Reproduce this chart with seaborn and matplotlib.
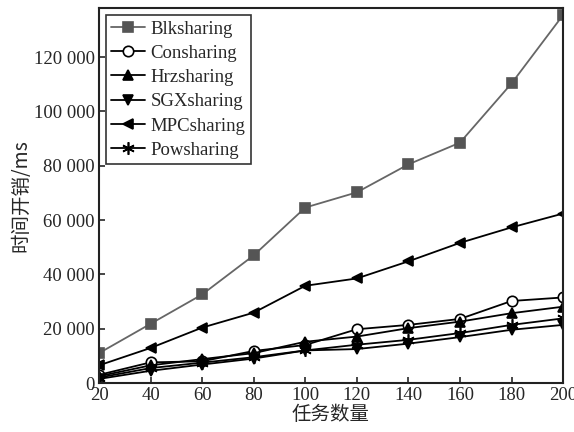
import numpy as np
import pandas as pd
import matplotlib
matplotlib.use("Agg")
import matplotlib.pyplot as plt
import seaborn as sns
from matplotlib.ticker import FuncFormatter

tasks = [20, 40, 60, 80, 100, 120, 140, 160, 180, 200]

blk = [11000, 21800, 32600, 47000, 64600, 70200, 80500, 88500, 110300, 135500]
con = [3000, 7600, 8000, 11800, 14000, 19800, 21400, 23600, 30200, 31500]
hrz = [2500, 6500, 8800, 11000, 15200, 17100, 20200, 22600, 25700, 28100]
sgx = [1500, 4500, 6800, 9000, 12000, 12500, 14500, 16900, 19600, 21400]
mpc = [6500, 12900, 20400, 25900, 35800, 38500, 44800, 51600, 57300, 62400]
pow_ = [2000, 5500, 7500, 9500, 12000, 14100, 15900, 18400, 21400, 23800]

names = ["Blksharing", "Consharing", "Hrzsharing", "SGXsharing", "MPCsharing", "Powsharing"]
series = [blk, con, hrz, sgx, mpc, pow_]

sns.set_style("ticks")
plt.rcParams["font.family"] = ["Liberation Serif", "Noto Sans CJK SC"]
plt.rcParams["xtick.direction"] = "in"
plt.rcParams["ytick.direction"] = "in"

fig = plt.figure(figsize=(5.74, 4.32), dpi=100)
ax = fig.add_axes([0.1725, 0.1134, 0.8085, 0.8676])

styles = {
    "Blksharing": dict(color="#666666", marker="s", mfc="#555555", mec="#555555", ms=7.5),
    "Consharing": dict(color="black", marker="o", mfc="white", mec="black", ms=7.5),
    "Hrzsharing": dict(color="black", marker="^", mfc="black", mec="black", ms=7.5),
    "SGXsharing": dict(color="black", marker="v", mfc="black", mec="black", ms=7.5),
    "MPCsharing": dict(color="black", marker="<", mfc="black", mec="black", ms=7.5),
    "Powsharing": dict(color="black", marker=(6, 2, 0), mfc="black", mec="black", ms=9),
}

for name, vals in zip(names, series):
    st = styles[name]
    df = pd.DataFrame({"tasks": tasks, "time": vals})
    sns.lineplot(data=df, x="tasks", y="time", ax=ax, color=st["color"],
                 marker=st["marker"], markersize=st["ms"], markerfacecolor=st["mfc"],
                 markeredgecolor=st["mec"], markeredgewidth=1.2, linewidth=1.3,
                 label=name)

ax.set_xlim(20, 200)
ax.set_ylim(0, 138000)
ax.set_xticks(tasks)
ax.set_yticks(np.arange(0, 120001, 20000))
ax.yaxis.set_major_formatter(FuncFormatter(lambda v, p: f"{int(v):,}".replace(",", " ")))
ax.tick_params(labelsize=13.5, length=4, width=1.2, top=False, right=False, pad=3)

for s in ax.spines.values():
    s.set_visible(True)
    s.set_linewidth(1.5)
    s.set_color("#222222")

ax.set_xlabel("任务数量", fontsize=14, family=["Noto Sans CJK SC"], labelpad=0)
ax.set_ylabel("时间开销/ms", fontsize=14, family=["Noto Sans CJK SC", "Liberation Serif"], labelpad=2)

leg = ax.legend(loc="upper left", fontsize=13.5, frameon=True, fancybox=False,
                edgecolor="black", handlelength=1.8, borderpad=0.3,
                labelspacing=0.38, handletextpad=0.3, borderaxespad=0.35)
leg.get_frame().set_linewidth(1.2)

fig.savefig("out.png", dpi=100)
